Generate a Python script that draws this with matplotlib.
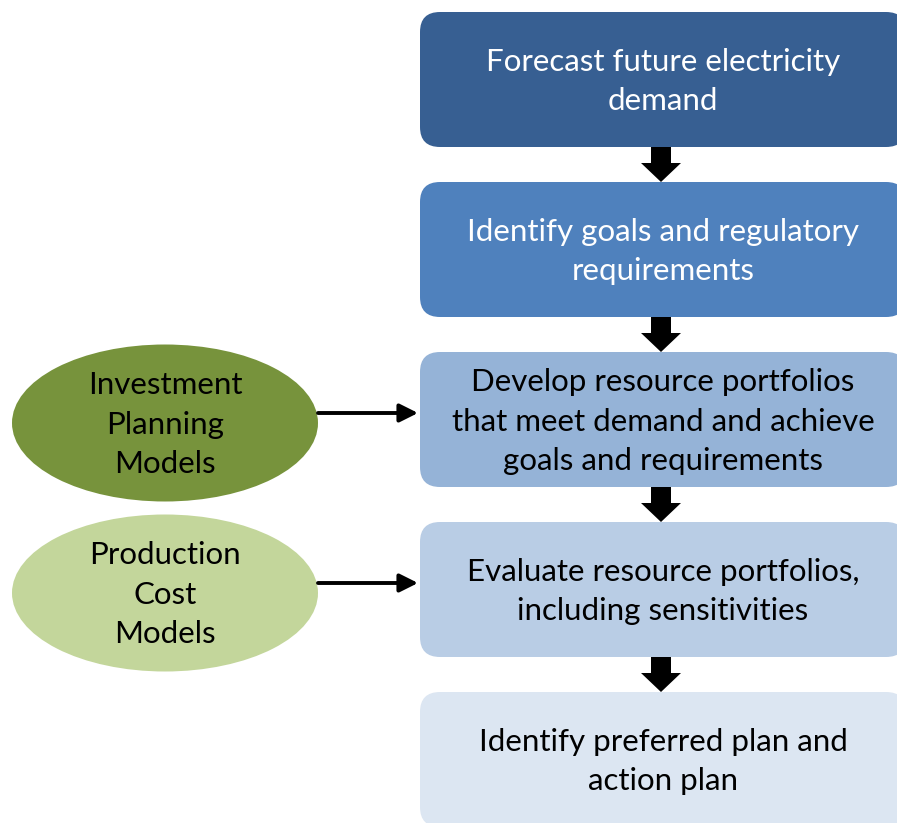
import matplotlib.pyplot as plt
from matplotlib.patches import FancyBboxPatch, Ellipse, FancyArrow

# ── Data ──────────────────────────────────────────────────────
steps = [
    "Forecast future electricity\ndemand",
    "Identify goals and regulatory\nrequirements",
    "Develop resource portfolios\nthat meet demand and achieve\ngoals and requirements",
    "Evaluate resource portfolios,\nincluding sensitivities",
    "Identify preferred plan and\naction plan",
]
step_colors = ["#375F92", "#4F81BD", "#95B3D7", "#B9CDE5", "#DCE6F2"]
step_text_colors = ["white", "white", "black", "black", "black"]

models = ["Investment\nPlanning\nModels", "Production\nCost\nModels"]
model_colors = ["#77933C", "#C3D69B"]
model_targets = [2, 3]   # step index each model feeds

# ── Layout (pixels) ───────────────────────────────────────────
W, H = 897, 823
box_x, box_w, box_h = 420, 486, 135
box_top0, box_step = 12, 170
ell_cx, ell_w, ell_h = 165, 306, 157

plt.rcParams['font.family'] = ['Lato', 'DejaVu Sans']

fig = plt.figure(figsize=(W / 100, H / 100), dpi=100)
ax = fig.add_axes([0, 0, 1, 1])
ax.set_xlim(0, W)
ax.set_ylim(H, 0)
ax.axis('off')

text_cx = box_x + box_w / 2
arrow_cx = box_x + box_w / 2 - 2
for i, (label, fc, tc) in enumerate(zip(steps, step_colors, step_text_colors)):
    top = box_top0 + i * box_step
    ax.add_patch(FancyBboxPatch((box_x, top), box_w, box_h,
                                boxstyle="round,pad=0,rounding_size=20",
                                fc=fc, ec='none'))
    ax.text(text_cx, top + box_h / 2 + 2, label, ha='center', va='center',
            color=tc, fontsize=22.5, linespacing=1.5)
    # block arrow down to next box
    if i < len(steps) - 1:
        ax.add_patch(FancyArrow(arrow_cx, top + box_h, 0, box_step - box_h,
                                width=20, head_width=40, head_length=19,
                                length_includes_head=True, fc='black', ec='none'))

for label, fc, tgt in zip(models, model_colors, model_targets):
    bcy = box_top0 + tgt * box_step + box_h / 2
    ax.add_patch(Ellipse((ell_cx, bcy + 3.5), ell_w, ell_h, fc=fc, ec='none'))
    ax.text(ell_cx, bcy + 5, label, ha='center', va='center',
            color='black', fontsize=22.5, linespacing=1.5)
    ax.annotate("", xy=(box_x - 2, bcy - 6.5), xytext=(ell_cx + ell_w / 2, bcy - 6.5),
                arrowprops=dict(arrowstyle="-|>,head_length=1.1,head_width=0.55",
                                lw=2.8, color='black', shrinkA=0, shrinkB=0))

fig.savefig('out.png', dpi=100)
